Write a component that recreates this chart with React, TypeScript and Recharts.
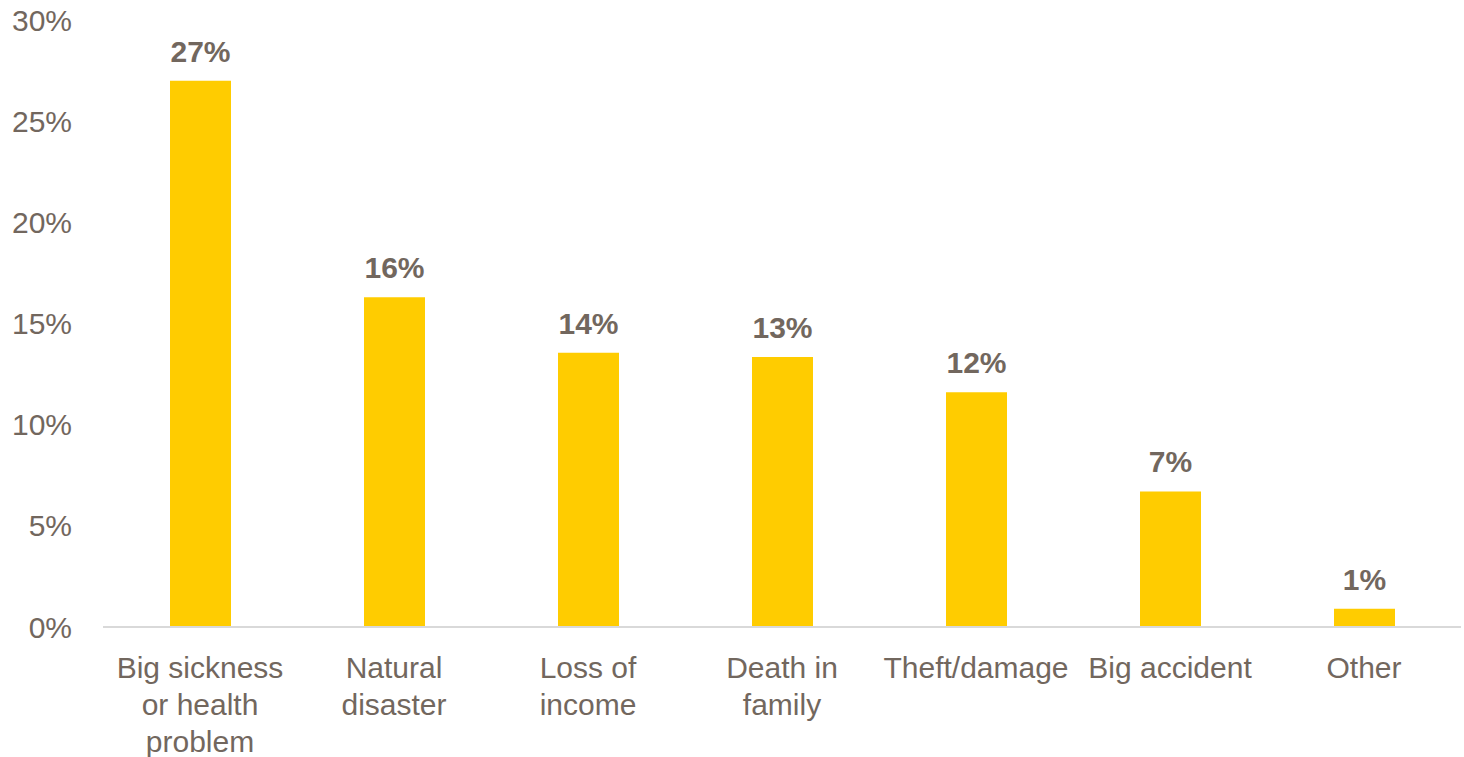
import { BarChart, Bar, XAxis, YAxis, LabelList } from "recharts";

const categories = [
  "Big sickness or health problem",
  "Natural disaster",
  "Loss of income",
  "Death in family",
  "Theft/damage",
  "Big accident",
  "Other",
];
// how each category label wraps in the picture
const categoryLines = [
  ["Big sickness", "or health", "problem"],
  ["Natural", "disaster"],
  ["Loss of", "income"],
  ["Death in", "family"],
  ["Theft/damage"],
  ["Big accident"],
  ["Other"],
];
const shares = [27.0, 16.3, 13.55, 13.35, 11.6, 6.7, 0.9];
const yTicks = [0, 5, 10, 15, 20, 25, 30];

const TEXT = "#72675E";
const FONT = "'Liberation Sans', Arial, sans-serif";

const data = categories.map((name, i) => ({ name, share: shares[i], idx: i }));

function CategoryTick(props: any) {
  const { x, y, index } = props;
  const lines = categoryLines[index] ?? [];
  return (
    <text x={x} y={y + 51} textAnchor="middle" fill={TEXT} fontSize={30} fontFamily={FONT}>
      {lines.map((l, i) => (
        <tspan key={i} x={x} dy={i === 0 ? 0 : 37}>
          {l}
        </tspan>
      ))}
    </text>
  );
}

function ValueLabel(props: any) {
  const { x, y, width, value } = props;
  return (
    <text
      x={x + width / 2}
      y={y - 19}
      textAnchor="middle"
      fill={TEXT}
      fontSize={30}
      fontWeight="bold"
      fontFamily={FONT}
    >
      {Math.round(value)}%
    </text>
  );
}

export default function App() {
  return (
    <div style={{ width: 1464, height: 757 }}>
      <style>{"body{margin:0}"}</style>
      <BarChart
        width={1464}
        height={757}
        data={data}
        margin={{ top: 20, right: 3, bottom: 0, left: 0 }}
        barCategoryGap={0}
      >
        <XAxis
          dataKey="name"
          height={130}
          interval={0}
          axisLine={{ stroke: "#D9D9D9", strokeWidth: 2 }}
          tickLine={false}
          tickSize={0}
          tickMargin={0}
          tick={<CategoryTick />}
        />
        <YAxis
          width={103}
          domain={[0, 30]}
          ticks={yTicks}
          axisLine={false}
          tickLine={false}
          tickSize={0}
          tickMargin={31}
          tickFormatter={(v: number) => `${v}%`}
          tick={{ fill: TEXT, fontSize: 30, fontFamily: FONT }}
        />
        <Bar dataKey="share" fill="#FFCC00" barSize={61} isAnimationActive={false}>
          <LabelList dataKey="share" content={<ValueLabel />} />
        </Bar>
      </BarChart>
    </div>
  );
}
